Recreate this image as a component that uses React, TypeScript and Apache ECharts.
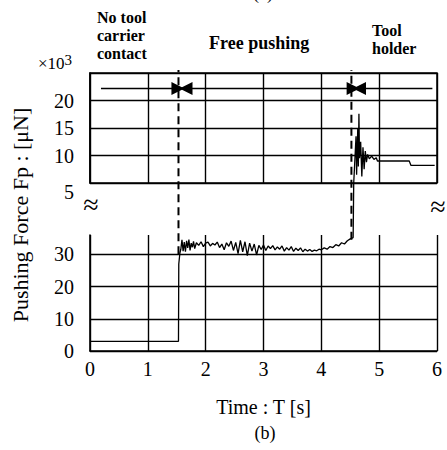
import React, { useEffect, useRef } from "react";
import * as echarts from "echarts";

// ---- data ----
const xTicks = [0, 1, 2, 3, 4, 5, 6];
const lowTicks = [0, 10, 20, 30]; // µN
const highTicks = [5, 10, 15, 20]; // ×10^3 µN

// low-range trace (µN)
const lowTime = [
  0, 1.53, 1.535, 1.555, 1.57, 1.59, 1.61, 1.63, 1.65, 1.67, 1.69, 1.71, 1.73, 1.75,
  1.77, 1.79, 1.81, 1.84, 1.88, 1.92, 1.96, 2.0, 2.04, 2.08, 2.12, 2.16, 2.2, 2.24,
  2.28, 2.32, 2.36, 2.4, 2.44, 2.48, 2.52, 2.56, 2.6, 2.64, 2.68, 2.72, 2.76, 2.8,
  2.84, 2.88, 2.92, 2.96, 3.0, 3.04, 3.08, 3.12, 3.16, 3.2, 3.24, 3.28, 3.32, 3.36,
  3.4, 3.44, 3.48, 3.52, 3.56, 3.6, 3.64, 3.68, 3.72, 3.76, 3.8, 3.84, 3.88, 3.92,
  3.96, 4.0, 4.05, 4.1, 4.15, 4.2, 4.25, 4.3, 4.35, 4.4, 4.45, 4.5, 4.55,
];
const lowForce = [
  3, 3, 27, 30.5, 31.5, 34.5, 31, 33.8, 30.8, 34.2, 32, 34.6, 31.2, 33.5,
  32.2, 34, 31.8, 33.6, 32.8, 33.9, 32.4, 33.5, 33.8, 32.6, 33.4, 32.9, 33.8, 32.1,
  33.2, 31.4, 33.6, 32.5, 34.1, 31.2, 33.7, 30.2, 34.3, 30.8, 33.9, 29.6, 33.5, 31.0,
  33.2, 29.8, 32.8, 31.5, 32.9, 31.2, 32.6, 31.8, 32.7, 31.4, 32.3, 31.6, 32.6, 31.0,
  32.1, 31.3, 32.4, 30.9, 31.9, 31.2, 32.0, 30.8, 31.6, 31.0, 31.5, 30.9, 31.3, 31.1,
  31.6, 31.4, 32.0, 31.6, 32.4, 32.1, 33.0, 32.6, 33.6, 33.2, 34.2, 34.8, 35.2,
];
const jumpTime = 4.56;

// high-range trace (×10^3 µN)
const highTime = [
  4.56, 4.6, 4.61, 4.63, 4.64, 4.65, 4.66, 4.68, 4.7, 4.72, 4.74, 4.76, 4.78, 4.8,
  4.83, 4.87, 4.91, 4.95, 4.97, 5.52, 5.55, 5.96,
];
const highForce = [
  5, 13.5, 6.5, 15, 8, 17.6, 9.5, 12.5, 6.2, 11.5, 7.5, 10.8, 8.8, 10.2,
  9.4, 9.9, 9.3, 9.6, 9.0, 9.0, 8.2, 8.2,
];

// phase boundaries (dashed lines) and their lower ends (µN)
const phaseTime = [1.53, 4.52];
const phaseLowEnd = [30, 34.5];

// phase arrows [from, to] in s, drawn at this height (×10^3 µN)
const arrowFrom = [0.19, 3.0, 3.0, 5.92];
const arrowTo = [1.52, 1.66, 4.55, 4.66];
const arrowLevel = 22.2;

const phaseNames = ["No tool\ncarrier\ncontact", "Free pushing", "Tool\nholder"];

// ---- layout ----
const W = 447;
const LEFT = 90;
const PLOT_W = 347;
const TOP_T = 73;
const TOP_B = 183;
const BOT_T = 235;
const BOT_B = 351;
const LOW_MAX = 36;
const HIGH_MIN = 5;
const HIGH_MAX = 25;
const SERIF = "Liberation Serif, serif";

export default function App() {
  const ref = useRef<HTMLDivElement>(null);

  useEffect(() => {
    if (!ref.current) return;
    const chart = echarts.init(ref.current, undefined, { renderer: "svg" });

    const lowPerPx = LOW_MAX / (BOT_B - BOT_T);
    const bridge = (BOT_B - TOP_B) * lowPerPx; // low-axis value at the top panel's floor
    const lowAtTop = (BOT_B - 70) * lowPerPx; // low-axis value at the top edge

    const black = "#000";
    const grid = { color: black, width: 1.4 };

    const lowData: any[] = lowTime.map((t, i) => [t, lowForce[i]]);
    lowData.push([jumpTime, bridge]);
    const highData = highTime.map((t, i) => [t, highForce[i]]);

    const dashed = phaseTime.map((t, i) => ({
      type: "line",
      xAxisIndex: 1,
      yAxisIndex: 1,
      data: [
        [t, phaseLowEnd[i]],
        [t, lowAtTop],
      ],
      showSymbol: false,
      clip: false,
      silent: true,
      z: 3,
      lineStyle: { color: black, width: 2, type: [8, 5] },
    }));

    const tickFont = { color: black, fontFamily: SERIF, fontSize: 20 };

    const option: any = {
      animation: false,
      backgroundColor: "#fff",
      textStyle: { fontFamily: SERIF },
      grid: [
        { left: LEFT, width: PLOT_W, top: TOP_T, height: TOP_B - TOP_T, show: true, borderColor: black, borderWidth: 1.5 },
        { left: LEFT, width: PLOT_W, top: BOT_T, height: BOT_B - BOT_T },
      ],
      xAxis: [
        {
          gridIndex: 0, type: "value", min: 0, max: 6, interval: 1,
          axisLine: { show: false, onZero: false }, axisTick: { show: false }, axisLabel: { show: false },
          splitLine: { show: true, lineStyle: grid },
        },
        {
          gridIndex: 1, type: "value", min: 0, max: 6, interval: 1,
          axisLine: { show: true, onZero: false, lineStyle: { color: black, width: 1.6 } },
          axisTick: { show: false },
          axisLabel: {
            ...tickFont, margin: 8,
            formatter: (v: number) => (xTicks.includes(v) ? String(v) : ""),
          },
          splitLine: { show: true, lineStyle: grid },
          name: "Time : T [s]", nameLocation: "middle", nameGap: 46,
          nameTextStyle: { ...tickFont },
        },
      ],
      yAxis: [
        {
          gridIndex: 0, type: "value", min: HIGH_MIN, max: HIGH_MAX, interval: 5,
          axisLine: { show: true, onZero: false, lineStyle: { color: black, width: 1.6 } },
          axisTick: { show: false },
          axisLabel: {
            ...tickFont, margin: 16, showMaxLabel: false,
            formatter: (v: number) =>
              highTicks.includes(v) ? (v === 5 ? "{d|5}" : String(v)) : "",
            rich: { d: { ...tickFont, padding: [18, 0, 0, 0] } },
          },
          splitLine: { show: true, lineStyle: grid },
        },
        {
          gridIndex: 1, type: "value", min: 0, max: LOW_MAX, interval: 10,
          axisLine: { show: true, onZero: false, lineStyle: { color: black, width: 1.6 } },
          axisTick: { show: false },
          axisLabel: {
            ...tickFont, margin: 16, showMaxLabel: false,
            formatter: (v: number) => (lowTicks.includes(v) ? String(v) : ""),
          },
          splitLine: { show: true, showMaxLine: false, lineStyle: grid },
        },
      ],
      series: [
        {
          type: "line", xAxisIndex: 1, yAxisIndex: 1, data: lowData,
          showSymbol: false, clip: false, z: 4,
          lineStyle: { color: black, width: 1.3 },
        },
        {
          type: "line", xAxisIndex: 0, yAxisIndex: 0, data: highData,
          showSymbol: false, clip: false, z: 4,
          lineStyle: { color: black, width: 1.3 },
          markLine: {
            silent: true,
            symbol: ["none", "triangle"],
            symbolSize: [13, 13],
            label: { show: false },
            lineStyle: { color: black, width: 1.4, type: "solid" },
            data: arrowFrom.map((f, i) => [
              { coord: [f, arrowLevel] },
              { coord: [arrowTo[i], arrowLevel] },
            ]),
          },
        },
        ...dashed,
      ],
      graphic: [
        { type: "text", x: 263, y: -7, style: { text: "(a)", font: `18px ${SERIF}`, fill: black, align: "center", verticalAlign: "middle" } },
        { type: "text", x: 97, y: 8, style: { text: phaseNames[0], font: `bold 16px ${SERIF}`, lineHeight: 18, fill: black } },
        { type: "text", x: 209, y: 34, style: { text: phaseNames[1], font: `bold 18px ${SERIF}`, fill: black } },
        { type: "text", x: 372, y: 21, style: { text: phaseNames[2], font: `bold 16px ${SERIF}`, lineHeight: 18, fill: black } },
        {
          type: "text", x: 38, y: 52,
          style: {
            text: "{m|×10}{s|3}",
            rich: {
              m: { fontFamily: SERIF, fontSize: 17, fill: black },
              s: { fontFamily: SERIF, fontSize: 15, fill: black, padding: [0, 0, 8, 0] },
            },
          },
        },
        {
          type: "text", x: 20, y: 215, rotation: Math.PI / 2,
          style: { text: "Pushing Force Fp : [μN]", font: `22px ${SERIF}`, fill: black, align: "center", verticalAlign: "middle" },
        },
        { type: "text", x: 91, y: 204, style: { text: "≈", font: `28px ${SERIF}`, fill: black, align: "center", verticalAlign: "middle" } },
        { type: "text", x: 438, y: 206, style: { text: "≈", font: `28px ${SERIF}`, fill: black, align: "center", verticalAlign: "middle" } },
        { type: "text", x: 265, y: 433, style: { text: "(b)", font: `18px ${SERIF}`, fill: black, align: "center", verticalAlign: "middle" } },
      ],
    };

    chart.setOption(option);
    return () => chart.dispose();
  }, []);

  return <div ref={ref} style={{ width: W, height: 450, position: "absolute", left: 0, top: 0 }} />;
}
